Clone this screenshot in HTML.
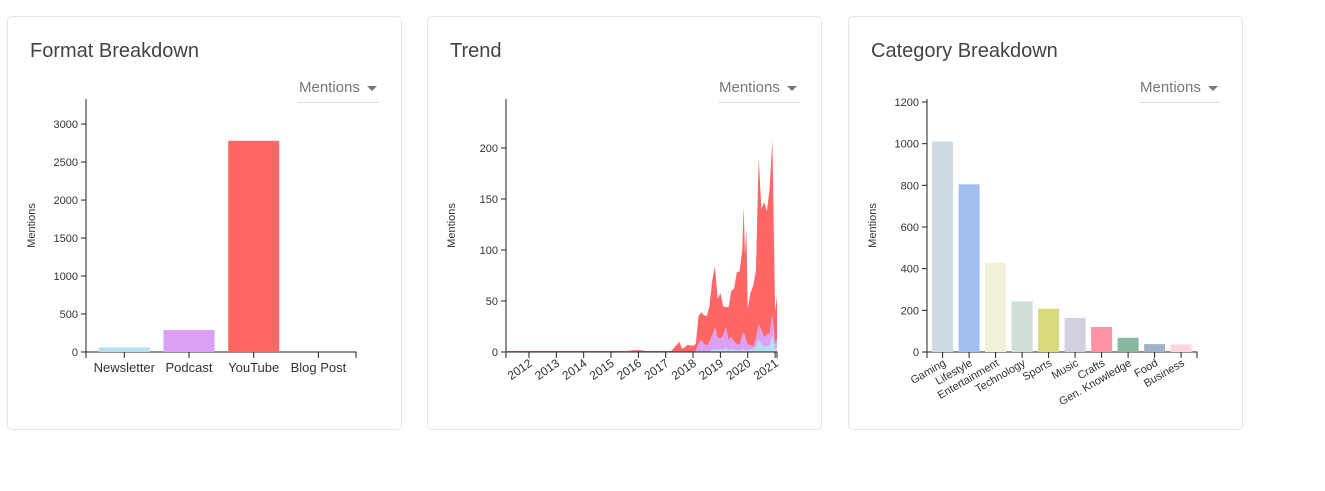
<!DOCTYPE html>
<html><head><meta charset="utf-8">
<style>
body{margin:0;width:1325px;height:491px;background:#fff;font-family:"Liberation Sans",sans-serif;overflow:hidden;position:relative}
.card{position:absolute;top:16px;width:395px;height:414px;border:1px solid #e6e6e6;border-radius:5px;box-sizing:border-box}
.title{position:absolute;left:22px;top:23px;font-size:20px;color:#444}
.dd{position:absolute;left:290px;top:61px;width:81px;height:24px;border-bottom:1px solid #ddd;color:#777;font-size:15px}
.dd span.t{position:absolute;left:1px;top:1px}
.dd span.a{position:absolute;right:2px;top:8px;width:0;height:0;border-left:5px solid transparent;border-right:5px solid transparent;border-top:5px solid #777}
svg{position:absolute;left:0;top:0}
svg text{font-family:"Liberation Sans",sans-serif;fill:#333}
</style></head><body>
<div class="card" style="left:7px">
 <div class="title">Format Breakdown</div>
 <div class="dd"><span class="t">Mentions</span><span class="a"></span></div>
</div>
<div class="card" style="left:427px">
 <div class="title">Trend</div>
 <div class="dd"><span class="t">Mentions</span><span class="a"></span></div>
</div>
<div class="card" style="left:848px">
 <div class="title">Category Breakdown</div>
 <div class="dd"><span class="t">Mentions</span><span class="a"></span></div>
</div>
<svg id="s" width="1325" height="491"></svg>
<script>
// Format chart data
const fmtCats=["Newsletter","Podcast","YouTube","Blog Post"];
const fmtVals=[60,290,2780,0];
const fmtColors=["#b3dff2","#dca0f5","#ff6666","#cccccc"];
const fmtTicks=[0,500,1000,1500,2000,2500,3000];
// Trend data
const trendX=[2011.2,2015.5,2016.0,2016.3,2017.2,2017.5,2017.6,2017.8,2018.0,2018.1,2018.2,2018.3,2018.4,2018.5,2018.6,2018.7,2018.8,2018.9,2019.0,2019.1,2019.2,2019.3,2019.4,2019.5,2019.6,2019.7,2019.8,2019.85,2019.9,2019.95,2020.0,2020.1,2020.2,2020.3,2020.4,2020.5,2020.6,2020.7,2020.8,2020.9,2021.0,2021.07];
const trendNews=[0,0,0,0,0,0,0,0,0,0,0,0,0,0,0,2,3,2,3,2,4,2,3,2,2,2,2,3,2,2,2,3,2,5,12,8,5,6,6,16,3,4];
const trendPod=[0,0,0,0,0,0,0,0,0,1,8,12,8,6,10,14,21,12,10,14,20,10,12,8,6,5,14,16,14,8,5,4,3,8,15,13,10,11,12,20,5,8];
const trendYT=[1,1,2,1,1,10,3,7,6,7,27,27,28,29,35,54,60,38,45,29,20,32,45,52,70,72,84,124,79,112,35,51,60,67,163,119,132,121,142,172,32,43];
const trendYears=[2012,2013,2014,2015,2016,2017,2018,2019,2020,2021];
const trendTicks=[0,50,100,150,200];
// Category data
const catCats=["Gaming","Lifestyle","Entertainment","Technology","Sports","Music","Crafts","Gen. Knowledge","Food","Business"];
const catVals=[1010,805,428,243,208,163,120,68,38,36];
const catColors=["#d0dae3","#a3bff2","#f0f1d6","#cfdfd5","#d8d97a","#d2d1df","#ff94a8","#88b8a0","#a2b2c6","#ffd6de"];
const catTicks=[0,200,400,600,800,1000,1200];

const S=document.getElementById('s');
const NS='http://www.w3.org/2000/svg';
function mk(tag,attrs,txt){const e=document.createElementNS(NS,tag);for(const k in attrs)e.setAttribute(k,attrs[k]);if(txt!==undefined)e.textContent=txt;S.appendChild(e);return e;}

function yAxis(x0,y0,y1,scale,ticks,prefix){
  let a=mk('line',{x1:x0,y1:y0,x2:x0,y2:y1,stroke:'#222'});
  
  
  ticks.forEach(t=>{const y=scale(t);
    mk('line',{x1:x0-5,y1:y,x2:x0,y2:y,stroke:'#222'});
    let tx=mk('text',{x:x0-8,y:y+4,'font-size':'11','text-anchor':'end'},t);
    
    
  });
  let lbl=mk('text',{x:0,y:0,'font-size':'11','text-anchor':'middle',transform:`translate(${x0-51},${(y0+y1)/2}) rotate(-90)`},'Mentions');
  
  
}

// Chart 1
(function(){
  const x0=86,x1=356,yb=352,yt=99,max=3330;
  const ys=v=>yb-(v/max)*(yb-yt);
  const step=64.7,first=124.3,w=51;
  yAxis(x0,yt,yb,ys,fmtTicks,'format');
  mk('path',{d:`M${x0},${yb+6}V${yb}H${x1}V${yb+6}`,fill:'none',stroke:'#222'});
  fmtCats.forEach((c,i)=>{
    const cx=first+step*i;
    let r=mk('rect',{x:cx-w/2,y:ys(fmtVals[i]),width:w,height:yb-ys(fmtVals[i]),fill:fmtColors[i]});
    
    
    mk('line',{x1:cx,y1:yb,x2:cx,y2:yb+6,stroke:'#222'});
    let t=mk('text',{x:cx,y:yb+20,'font-size':'13','text-anchor':'middle'},c);
    
    
  });
})();

// Chart 2
(function(){
  const x0=506,x1=777,yb=352,yt=99,max=248,t0=2011.16,t1=2021.07;
  const ys=v=>yb-(v/max)*(yb-yt);
  const xs=t=>x0+(t-t0)/(t1-t0)*(x1-x0);
  const series=[[trendNews,'#b3dff2','area-newsletter'],[trendPod,'#dca0f5','area-podcast'],[trendYT,'#ff6666','area-youtube']];
  const base=trendX.map(()=>0);
  const layers=[];
  series.forEach(s=>{const lo=base.slice();s[0].forEach((v,i)=>base[i]+=v);layers.push([lo,base.slice(),s[1],s[2]]);});
  for(let k=layers.length-1;k>=0;k--){
    const [lo,hi,col,nm]=layers[k];
    let d='M'+trendX.map((t,i)=>xs(t)+','+ys(hi[i])).join('L');
    for(let i=trendX.length-1;i>=0;i--)d+='L'+xs(trendX[i])+','+ys(lo[i]);
    let p=mk('path',{d:d+'Z',fill:col});
    
    
  }
  yAxis(x0,yt,yb,ys,trendTicks,'trend');
  mk('path',{d:`M${x0},${yb+6}V${yb}H${x1}V${yb+6}`,fill:'none',stroke:'#222'});
  trendYears.forEach(y=>{const x=xs(y);
    mk('line',{x1:x,y1:yb,x2:x,y2:yb+6,stroke:'#222'});
    let t=mk('text',{x:0,y:0,'font-size':'12','text-anchor':'end',transform:`translate(${x+4},${yb+13}) rotate(-35)`},y);
    
    
  });
})();

// Chart 3
(function(){
  const x0=927,x1=1197,yb=352,max=1200,ytop=102;
  const ys=v=>yb-(v/max)*(yb-ytop);
  const step=26.5,first=942.6,w=21;
  yAxis(x0,99,yb,ys,catTicks,'category');
  mk('path',{d:`M${x0},${yb+6}V${yb}H${x1}V${yb+6}`,fill:'none',stroke:'#222'});
  catCats.forEach((c,i)=>{
    const cx=first+step*i;
    let r=mk('rect',{x:cx-w/2,y:ys(catVals[i]),width:w,height:yb-ys(catVals[i]),fill:catColors[i]});
    
    
    mk('line',{x1:cx,y1:yb,x2:cx,y2:yb+6,stroke:'#222'});
    let t=mk('text',{x:0,y:0,'font-size':'11','text-anchor':'end',transform:`translate(${cx+4},${yb+13}) rotate(-30)`},c);
    
    
  });
})();
</script>
</body></html>
